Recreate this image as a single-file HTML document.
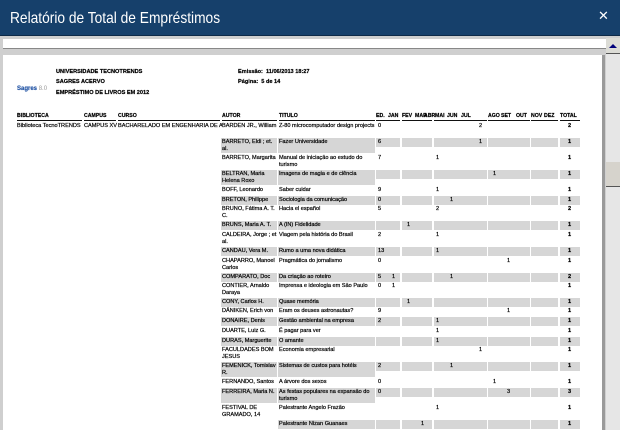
<!DOCTYPE html>
<html><head><meta charset="utf-8"><style>
*{margin:0;padding:0;box-sizing:border-box}
body{width:620px;height:430px;overflow:hidden;background:#cfcfcf;font-family:"Liberation Sans",Arial,sans-serif;position:relative}
.t{position:absolute;font-size:5.6px;line-height:7px;color:#000;white-space:nowrap;-webkit-text-stroke:0.2px #000}
.b{font-weight:bold}
.g{position:absolute;background:#d6d6d6}
.w{white-space:normal}
</style></head><body>
<div style="position:absolute;left:0;top:0;width:620px;height:36px;background:#16406b;border-bottom:1px solid #0d2a48"></div>
<div style="position:absolute;left:10px;top:10px;font-size:16px;color:#fff;font-family:'Liberation Sans',sans-serif;transform:scaleX(0.86);transform-origin:left top;white-space:nowrap">Relatório de Total de Empréstimos</div>
<div style="position:absolute;left:598px;top:9px;font-size:13px;color:#fff;font-weight:bold;font-family:'DejaVu Sans',sans-serif">✕</div>
<div style="position:absolute;left:3px;top:39px;width:604px;height:10px;background:#fff;border-bottom:1px solid #888"></div>
<div style="position:absolute;left:3px;top:55px;width:599px;height:375px;background:#fff"></div>
<div style="position:absolute;left:602px;top:55px;width:3px;height:375px;background:#9a9a9a"></div>
<div style="position:absolute;left:606px;top:38px;width:14px;height:392px;background:#e6e6e6"></div>
<div style="position:absolute;left:606px;top:38px;width:14px;height:16px;background:#dcdcd6;border-bottom:1px solid #555"></div>
<div style="position:absolute;left:609px;top:44px;width:0;height:0;border-left:4px solid transparent;border-right:4px solid transparent;border-bottom:4px solid #00007a"></div>
<div style="position:absolute;left:606px;top:162px;width:14px;height:25px;background:#d6d3cc;border-bottom:1px solid #555"></div>

<div class="t" style="left:17px;top:86px;font-size:6px;color:#2a5aa8;-webkit-text-stroke:0.2px #2a5aa8;font-weight:bold">Sagres <span style="color:#999;font-weight:normal;-webkit-text-stroke:0">8.0</span></div>
<div class="t b" style="left:56px;top:69px">UNIVERSIDADE TECNOTRENDS</div>
<div class="t b" style="left:56px;top:79px">SAGRES ACERVO</div>
<div class="t b" style="left:56px;top:90px">EMPRÉSTIMO DE LIVROS EM 2012</div>
<div class="t b" style="left:238px;top:69px">Emissão:&nbsp; 11/06/2013 18:27</div>
<div class="t b" style="left:238px;top:79px">Página:&nbsp; 5 de 14</div>

<div id="h"></div>
<script>
var H=["BIBLIOTECA","CAMPUS","CURSO","AUTOR","TITULO","ED.","JAN","FEV","MAR","ABR","MAI","JUN","JUL","AGO","SET","OUT","NOV","DEZ","TOTAL"];
var s="";
var hx=[17,84,118,222,279,376,388,402,415,424,435,447,461,488,501,516,531,544,560];
H.forEach(function(h,i){s+='<div class="t b" style="left:'+hx[i]+'px;top:113px;font-size:5.2px">'+h+'</div>';});
[[17,82],[84,116],[118,220],[222,277],[279,375],[376,400],[402,432],[434,487],[488,530],[531,558],[560,580]].forEach(function(u){s+='<div style="position:absolute;left:'+u[0]+'px;top:120px;width:'+(u[1]-u[0])+'px;height:1px;background:#111"></div>';});
s+='<div class="t" style="left:17px;top:123px">Biblioteca TecnoTRENDS</div><div class="t" style="left:84px;top:123px">CAMPUS XV</div><div class="t" style="left:118px;top:123px;width:104px;overflow:hidden">BACHARELADO EM ENGENHARIA DE AUTOMAÇÃO</div>';
var R=[
["BARDEN JR., William","Z-80 microcomputador design projects","0",[[480,"2"]],"2",0,123,2],
["BARRETO, Eldi ; et. al.","Fazer Universidade","6",[[480,"1"]],"1",1,139,2],
["BARRETO, Margarita","Manual de iniciação ao estudo do turismo","7",[[437,"1"]],"1",0,155,2],
["BELTRAN, Maria Helena Roxo","Imagens de magia e de ciência","",[[494,"1"]],"1",1,171,2],
["BOFF, Leonardo","Saber cuidar","9",[[437,"1"]],"1",0,187,1],
["BRETON, Philippe","Sociologia da comunicação","0",[[451,"1"]],"1",1,197,1],
["BRUNO, Fátima A. T. C.","Hacia el español","5",[[437,"2"]],"2",0,206,2],
["BRUNS, Maria A. T.","A (IN) Fidelidade","",[[408,"1"]],"1",1,222,1],
["CALDEIRA, Jorge ; et al.","Viagem pela história do Brasil","2",[[437,"1"]],"1",0,232,2],
["CANDAU, Vera M.","Rumo a uma nova didática","13",[[437,"1"]],"1",1,248,1],
["CHAPARRO, Manoel Carlos","Pragmática do jornalismo","0",[[508,"1"]],"1",0,258,2],
["COMPARATO, Doc","Da criação ao roteiro","5",[[393,"1"],[451,"1"]],"2",1,274,1],
["CONTIER, Arnaldo Daraya","Imprensa e ideologia em São Paulo","0",[[393,"1"]],"1",0,283,2],
["CONY, Carlos H.","Quase memória","",[[408,"1"]],"1",1,299,1],
["DÄNIKEN, Erich von","Eram os deuses astronautas?","9",[[508,"1"]],"1",0,308,1],
["DONAIRE, Denis","Gestão ambiental na empresa","2",[[437,"1"]],"1",1,318,1],
["DUARTE, Luiz G.","É pagar para ver","",[[437,"1"]],"1",0,328,1],
["DURAS, Marguerite","O amante","",[[437,"1"]],"1",1,338,1],
["FACULDADES BOM JESUS","Economia empresarial","",[[480,"1"]],"1",0,347,2],
["FEMENICK, Tomislav R.","Sistemas de custos para hotéis","2",[[451,"1"]],"1",1,363,2],
["FERNANDO, Santos","A árvore dos sexos","0",[[494,"1"]],"1",0,379,1],
["FERREIRA, Maria N.","As festas populares na expansão do turismo","0",[[508,"3"]],"3",1,389,2],
["FESTIVAL DE GRAMADO, 14","Palestrante Angelo Frazão","",[[437,"1"]],"1",0,405,2],
["","Palestrante Nizan Guanaes","",[[422,"1"]],"1",1,421,1]];
R.forEach(function(r){
 var y=r[6];
 if(r[5]){
  var hh=r[7]==2?15:9;
  if(r[0])s+='<div class="g" style="left:221px;top:'+(y-1)+'px;width:56px;height:'+hh+'px"></div>';
  s+='<div class="g" style="left:278px;top:'+(y-1)+'px;width:97px;height:'+hh+'px"></div>';
  [[376,400],[402,432],[434,487],[488,530],[531,558],[560,580]].forEach(function(u){s+='<div class="g" style="left:'+u[0]+'px;top:'+(y-1)+'px;width:'+(u[1]-u[0])+'px;height:9px"></div>';});
 }
 s+='<div class="t w" style="left:222px;top:'+y+'px;width:56px">'+r[0]+'</div>';
 s+='<div class="t w" style="left:279px;top:'+y+'px;width:96px">'+r[1]+'</div>';
 s+='<div class="t" style="left:378px;top:'+y+'px">'+r[2]+'</div>';
 r[3].forEach(function(v){s+='<div class="t" style="left:'+(v[0]-1)+'px;top:'+y+'px">'+v[1]+'</div>';});
 s+='<div class="t b" style="left:568px;top:'+y+'px">'+r[4]+'</div>';
});
document.getElementById("h").innerHTML=s;
</script>
</body></html>
